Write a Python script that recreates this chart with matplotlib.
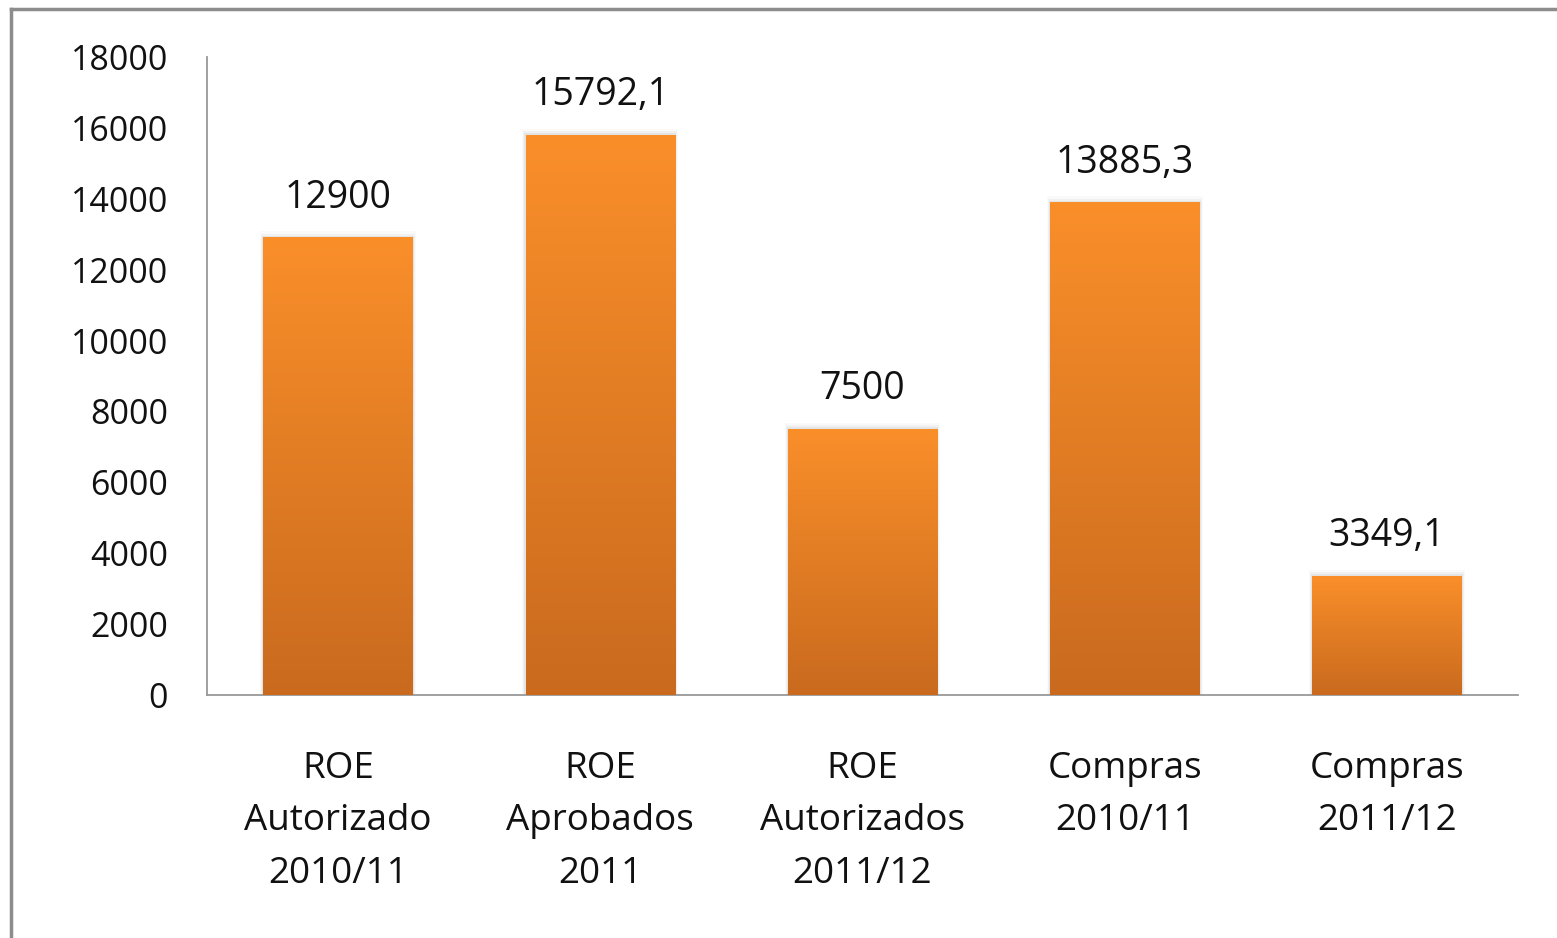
import numpy as np
import matplotlib.pyplot as plt
from matplotlib.colors import LinearSegmentedColormap
from matplotlib.lines import Line2D

plt.rcParams['font.family'] = ['Open Sans', 'DejaVu Sans']

categories = ["ROE\nAutorizado\n2010/11", "ROE\nAprobados\n2011",
              "ROE\nAutorizados\n2011/12", "Compras\n2010/11", "Compras\n2011/12"]
values = [12900, 15792.1, 7500, 13885.3, 3349.1]
labels = ["12900", "15792,1", "7500", "13885,3", "3349,1"]
yticks = list(range(0, 18001, 2000))

fig = plt.figure(figsize=(15.57, 9.38), dpi=100)
ax = fig.add_axes([0.1329, 0.2591, 0.8421, 0.6801])

x = np.arange(len(categories))
bars = ax.bar(x, values, width=0.57, color='none', edgecolor='none', zorder=2)

# vertical gradient, same for every bar (light top, dark bottom)
cmap = LinearSegmentedColormap.from_list('org', ['#c96a1e', '#fa8f2a'])
grad = np.linspace(0, 1, 256).reshape(-1, 1)
for b in bars:
    x0, w, h = b.get_x(), b.get_width(), b.get_height()
    # faint shadow
    for k, a in enumerate([0.05, 0.035, 0.02]):
        ax.add_patch(plt.Rectangle((x0 - 0.004 * (k + 1), 0), w + 0.008 * (k + 1), h + 60 * (k + 1),
                                   color='black', alpha=a, lw=0, zorder=1))
    ax.imshow(grad, extent=(x0, x0 + w, 0, h), origin='lower', cmap=cmap,
              aspect='auto', zorder=3)

for xi, v, t in zip(x, values, labels):
    ax.text(xi, v + 1130, t, ha='center', va='center', fontsize=27, color='#111111')

ax.set_xlim(-0.5, len(categories) - 0.5)
ax.set_ylim(0, 18000)
ax.set_yticks(yticks)
ax.set_yticklabels([str(t) for t in yticks], fontsize=24.5, color='#111111')
ax.set_xticks(x)
ax.set_xticklabels(categories, fontsize=26.5, color='#111111', linespacing=1.62)
ax.tick_params(axis='both', length=0)
ax.tick_params(axis='y', pad=28)
ax.tick_params(axis='x', pad=40)
for s in ['top', 'right']:
    ax.spines[s].set_visible(False)
for s in ['left', 'bottom']:
    ax.spines[s].set_color('#999999')
    ax.spines[s].set_linewidth(1.3)

# outer chart border (partly cropped)
fig.add_artist(Line2D([11 / 1557, 1.0], [1 - 9 / 938, 1 - 9 / 938], color='#8c8c8c', lw=2.5))
fig.add_artist(Line2D([11 / 1557, 11 / 1557], [0, 1 - 9 / 938], color='#8c8c8c', lw=2.5))

fig.savefig('out.png', dpi=100)
